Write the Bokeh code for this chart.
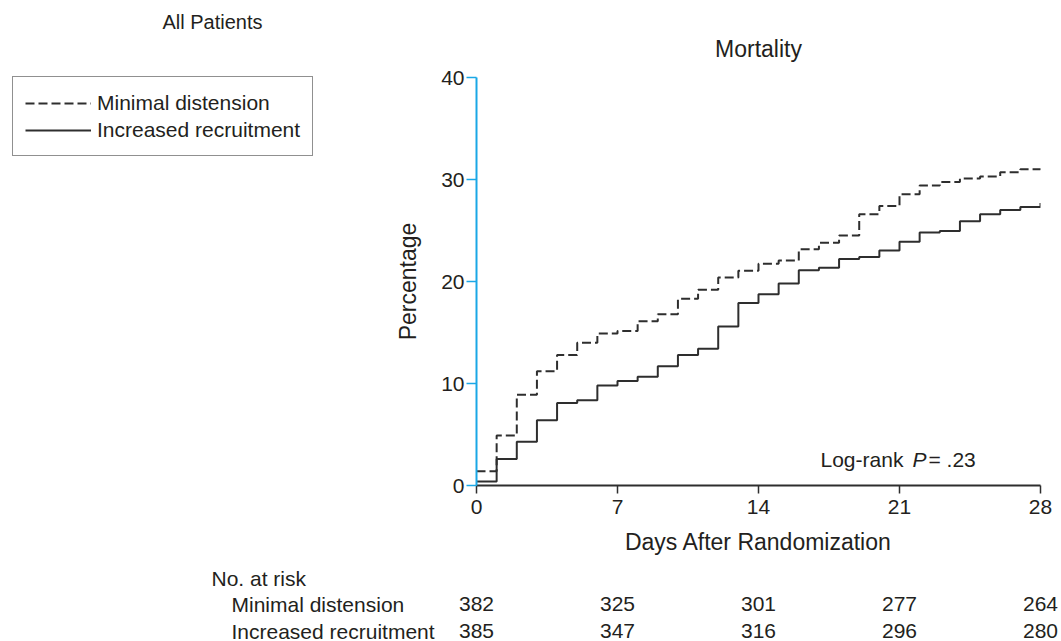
from bokeh.plotting import figure
from bokeh.models import Label, Legend, LegendItem, FixedTicker, Range1d
from bokeh.layouts import column, row
from bokeh.embed import file_html
from bokeh.resources import INLINE

# ---------------- data ----------------
days = list(range(0, 29))
minimal_distension = [1.4, 4.9, 8.9, 11.2, 12.8, 14.0, 14.9, 15.15, 16.1, 16.8,
                      18.3, 19.2, 20.4, 21.05, 21.75, 22.05, 23.15, 23.8, 24.5, 26.6,
                      27.4, 28.55, 29.4, 29.75, 30.1, 30.3, 30.7, 31.0, 31.3]
increased_recruitment = [0.4, 2.6, 4.3, 6.4, 8.1, 8.35, 9.8, 10.25, 10.65, 11.7,
                         12.8, 13.4, 15.6, 17.9, 18.75, 19.8, 21.1, 21.35, 22.2, 22.4,
                         23.05, 23.9, 24.8, 24.95, 25.9, 26.6, 27.0, 27.3, 27.7]
x_ticks = [0, 7, 14, 21, 28]
y_ticks = [0, 10, 20, 30, 40]
risk_days = [0, 7, 14, 21, 28]
risk_minimal = [382, 325, 301, 277, 264]
risk_increased = [385, 347, 316, 296, 280]
series_names = ["Minimal distension", "Increased recruitment"]

FONT = "Liberation Sans"
TXT = "#231f20"
LINE = "#2e2e2e"
BLUE = "#1aa7e6"
DASH = "9 4"

# page geometry (px)
PAGE_W, PAGE_H = 1061, 641
FL, FR, FT, FB = 476, 1040, 77, 485      # plot frame (day 0..28, 0..40 %)
LEFT_W = 330                              # left column (panel title + legend)
LEG_X = 12                                # left edge of legend box
HEAD_H = 62                               # strip above the plot ("Mortality")
TITLE_H = 75                              # strip above the legend
ROW_H = 560                               # height of the upper part


def dx(px):
    return (px - FL) * 28.0 / (FR - FL)


def dy(py):
    return (FB - py) * 40.0 / (FB - FT)


def lab(fig, text, x, y, size="21px", align="left", style="normal"):
    # y is the vertical centre of the capital letters
    fig.add_layout(Label(x=x, y=y, text=text, text_font=FONT, text_font_size=size,
                         text_color=TXT, text_align=align, text_baseline="alphabetic",
                         text_font_style=style))


def blank(width, height, xr, yr, left=0, right=0, top=0):
    f = figure(width=width, height=height, x_range=xr, y_range=yr,
               x_axis_type=None, y_axis_type=None, output_backend="svg",
               toolbar_location=None, min_border_left=left,
               min_border_right=right, min_border_top=top,
               min_border_bottom=0)
    f.outline_line_color = None
    f.grid.visible = False
    return f


# ---------------- main plot ----------------
pm = figure(width=PAGE_W - LEFT_W, height=ROW_H - HEAD_H,
            x_range=Range1d(0, 28), y_range=Range1d(0, 40),
            output_backend="svg", toolbar_location=None,
            min_border_left=FL - LEFT_W, min_border_right=PAGE_W - FR,
            min_border_top=FT - HEAD_H, min_border_bottom=ROW_H - FB)
pm.outline_line_color = None
pm.grid.visible = False

pm.step(days, minimal_distension, mode="after", line_color=LINE,
        line_width=2, line_dash=DASH)
pm.step(days, increased_recruitment, mode="after", line_color=LINE,
        line_width=2)

pm.yaxis.ticker = FixedTicker(ticks=y_ticks)
pm.yaxis.axis_line_color = BLUE
pm.yaxis.axis_line_width = 2
pm.yaxis.major_tick_line_color = BLUE
pm.yaxis.major_tick_line_width = 1.5
pm.yaxis.major_tick_out = 10
pm.yaxis.major_tick_in = 0
pm.yaxis.minor_tick_line_color = None
pm.yaxis.major_label_standoff = 2
pm.yaxis.major_label_text_font = FONT
pm.yaxis.major_label_text_font_size = "21px"
pm.yaxis.major_label_text_color = TXT
pm.yaxis.axis_label = "Percentage"
pm.yaxis.axis_label_text_font = FONT
pm.yaxis.axis_label_text_font_size = "23px"
pm.yaxis.axis_label_text_font_style = "normal"
pm.yaxis.axis_label_text_color = TXT
pm.yaxis.axis_label_standoff = 17

pm.xaxis.ticker = FixedTicker(ticks=x_ticks)
pm.xaxis.axis_line_color = LINE
pm.xaxis.axis_line_width = 2
pm.xaxis.major_tick_line_color = LINE
pm.xaxis.major_tick_line_width = 1.5
pm.xaxis.major_tick_out = 8
pm.xaxis.major_tick_in = 0
pm.xaxis.minor_tick_line_color = None
pm.xaxis.major_label_standoff = 6
pm.xaxis.major_label_text_font = FONT
pm.xaxis.major_label_text_font_size = "21px"
pm.xaxis.major_label_text_color = TXT
pm.xaxis.axis_label = "Days After Randomization"
pm.xaxis.axis_label_text_font = FONT
pm.xaxis.axis_label_text_font_size = "23px"
pm.xaxis.axis_label_text_font_style = "normal"
pm.xaxis.axis_label_text_color = TXT
pm.xaxis.axis_label_standoff = 12

lab(pm, "Log-rank", dx(820), dy(458.5))
lab(pm, "P", dx(912), dy(458.5), style="italic")
lab(pm, "= .23", dx(928), dy(458.5))

# ---------------- "Mortality" strip above the plot (frame aligned with plot) ----------------
ph = blank(PAGE_W - LEFT_W, HEAD_H, Range1d(0, 28), Range1d(HEAD_H, 0),
           left=FL - LEFT_W, right=PAGE_W - FR)
lab(ph, "Mortality", 14, 48, size="23px", align="center")

# ---------------- left column: panel title + legend ----------------
pa = blank(LEFT_W, TITLE_H, Range1d(LEG_X, LEFT_W), Range1d(TITLE_H, 0),
           left=LEG_X)
lab(pa, "All Patients", 162, 21, size="20px")

pk = blank(LEFT_W, ROW_H - TITLE_H, Range1d(-100, -90), Range1d(-100, -90),
           left=LEG_X, top=1)
k1 = pk.step(days, minimal_distension, mode="after", line_color=LINE,
             line_width=2, line_dash=DASH)
k2 = pk.step(days, increased_recruitment, mode="after", line_color=LINE,
             line_width=2)
legend = Legend(items=[LegendItem(label=series_names[0], renderers=[k1]),
                       LegendItem(label=series_names[1], renderers=[k2])],
                location="top_left")
legend.border_line_color = "#222222"
legend.border_line_width = 1.5
legend.background_fill_color = "white"
legend.background_fill_alpha = 1
legend.label_text_font = FONT
legend.label_text_font_size = "21px"
legend.label_text_color = TXT
legend.glyph_width = 66
legend.glyph_height = 20
legend.label_standoff = 6
legend.padding = 12
legend.spacing = 0
legend.label_height = 27
legend.margin = 0
pk.add_layout(legend)

# ---------------- number-at-risk table ----------------
pt = blank(PAGE_W, PAGE_H - ROW_H, Range1d(dx(0), dx(PAGE_W)),
           Range1d(PAGE_H, ROW_H))
lab(pt, "No. at risk", dx(211), 578)
lab(pt, series_names[0], dx(231), 603.5)
lab(pt, series_names[1], dx(231), 630.5)
for d, v in zip(risk_days, risk_minimal):
    lab(pt, str(v), d, 603.5, align="center")
for d, v in zip(risk_days, risk_increased):
    lab(pt, str(v), d, 630.5, align="center")

layout = column(row(column(pa, pk), column(ph, pm)), pt)
html = file_html(layout, INLINE)
html = html.replace("<head>", "<head><style>html, body {overflow: hidden;}</style>", 1)
open("out.html", "w").write(html)
